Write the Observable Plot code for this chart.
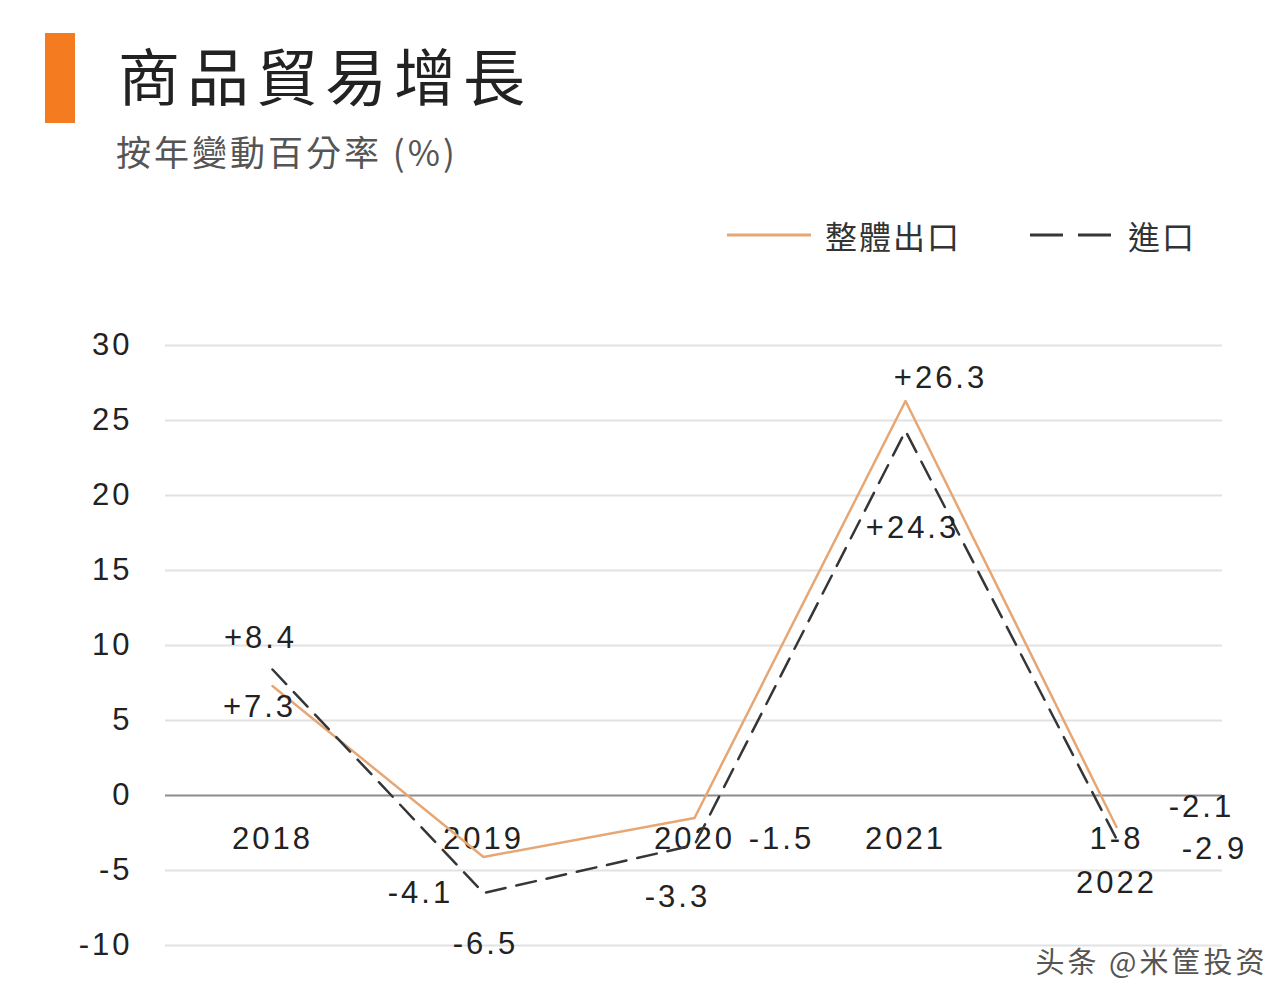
<!DOCTYPE html>
<html>
<head>
<meta charset="utf-8">
<script src="https://cdn.jsdelivr.net/npm/d3@7"></script>
<script src="https://cdn.jsdelivr.net/npm/@observablehq/plot@0.6"></script>
<style>
  html, body { margin: 0; padding: 0; background: #ffffff; }
  #page { width: 1280px; position: relative; }
  #header { position: relative; width: 1280px; height: 300px; }
  .bar { position: absolute; left: 45px; top: 33px; width: 30px; height: 90px; background: #f47b20; }
  .title { position: absolute; left: 118px; top: 38px; font-family: "Noto Sans CJK TC", "Noto Sans CJK SC", sans-serif; font-size: 62px; line-height: 72px; letter-spacing: 7px; color: #222; white-space: nowrap; }
  .subtitle { position: absolute; left: 116px; top: 129px; font-family: "Noto Sans CJK TC", "Noto Sans CJK SC", sans-serif; font-size: 35px; line-height: 44px; letter-spacing: 3px; color: #555; white-space: nowrap; }
  .legend { position: absolute; top: 212px; left: 0; height: 46px; width: 1280px; font-family: "Noto Sans CJK TC", sans-serif; font-size: 32px; color: #333; }
  .legend .item { position: absolute; top: 0; display: flex; align-items: center; height: 46px; white-space: nowrap; letter-spacing: 2px; }
  .legend svg { margin-right: 14px; }
  #chart svg { display: block; }
</style>
</head>
<body>
<div id="page">
  <div id="header">
    <div class="bar"></div>
    <div class="title">商品貿易增長</div>
    <div class="subtitle">按年變動百分率 (%)</div>
    <div class="legend" id="legend"></div>
  </div>
  <div id="chart"></div>
</div>
<script>
// ---- data ----
const categories = ["2018", "2019", "2020", "2021", "2022"];
const xTickLabels = ["2018", "2019", "2020", "2021", "1-8\n2022"];
const exportsGrowth = [7.3, -4.1, -1.5, 26.3, -2.1];   // 整體出口
const importsGrowth = [8.4, -6.5, -3.3, 24.3, -2.9];   // 進口
const yTicks = [-10, -5, 0, 5, 10, 15, 20, 25, 30];
const seriesNames = ["整體出口", "進口"];
const watermark = "头条 @米筐投资";

// ---- styling ----
const exportColor = "#e6a774";
const importColor = "#363636";
const numFont = "'Liberation Sans', Arial, sans-serif";

const rows = categories.map((c, i) => ({cat: c, exp: exportsGrowth[i], imp: importsGrowth[i]}));
const fmt = v => (v > 0 ? "+" : "") + v.toFixed(1);

// label nudges (pixels) relative to each point
const expNudge = [[-13, 21], [-63, 36], [87, 21], [35, -23], [85, -20]];
const impNudge = [[-12, -31], [2, 51], [-17, 52], [7, 97], [98, 10]];

// legend
const legend = document.getElementById("legend");
legend.innerHTML = `
  <div class="item" style="left:727px">
    <svg width="84" height="10"><line x1="0" y1="5" x2="84" y2="5" stroke="${exportColor}" stroke-width="3"/></svg>${seriesNames[0]}
  </div>
  <div class="item" style="left:1030px">
    <svg width="84" height="10"><line x1="0" y1="5" x2="84" y2="5" stroke="${importColor}" stroke-width="3" stroke-dasharray="33,15"/></svg>${seriesNames[1]}
  </div>`;

const labelMarks = [];
rows.forEach((r, i) => {
  labelMarks.push(Plot.text([r], {x: "cat", y: "exp", text: d => fmt(d.exp), dx: expNudge[i][0], dy: expNudge[i][1],
    fontSize: 31, fill: "#222", textAnchor: "middle", lineAnchor: "middle"}));
  labelMarks.push(Plot.text([r], {x: "cat", y: "imp", text: d => fmt(d.imp), dx: impNudge[i][0], dy: impNudge[i][1],
    fontSize: 31, fill: "#222", textAnchor: "middle", lineAnchor: "middle"}));
});

const chart = Plot.plot({
  width: 1280,
  height: 699,
  marginLeft: 165,
  marginRight: 58,
  marginTop: 45,
  marginBottom: 54,
  style: {fontFamily: numFont, fontSize: "31px", color: "#222", background: "transparent", letterSpacing: "3px"},
  x: {type: "point", domain: categories, padding: 0.5},
  y: {domain: [-10, 30], ticks: yTicks},
  marks: [
    Plot.ruleY(yTicks.filter(t => t !== 0), {stroke: "#e2e2e2", strokeWidth: 2}),
    Plot.ruleY([0], {stroke: "#8c8c8c", strokeWidth: 2}),
    Plot.axisY({ticks: yTicks, tickSize: 0, tickPadding: 33, fontSize: 31, fill: "#222", label: null,
      tickFormat: d => String(d)}),
    Plot.axisX({anchor: "bottom", tickSize: 0, tickPadding: 0, dy: -128, fontSize: 31, fill: "#222", label: null,
      lineHeight: 1.42, tickFormat: d => xTickLabels[categories.indexOf(d)]}),
    Plot.line(rows, {x: "cat", y: "exp", stroke: exportColor, strokeWidth: 2.5}),
    Plot.line(rows, {x: "cat", y: "imp", stroke: importColor, strokeWidth: 2.5, strokeDasharray: "20,11"}),
    ...labelMarks,
    Plot.text([watermark], {frameAnchor: "bottom-right", text: d => d, dx: 45, dy: 18, fontSize: 29,
      fill: "#555", textAnchor: "end", lineAnchor: "middle", fontFamily: "'Noto Sans CJK SC', sans-serif"})
  ]
});
document.getElementById("chart").appendChild(chart);
</script>
</body>
</html>
